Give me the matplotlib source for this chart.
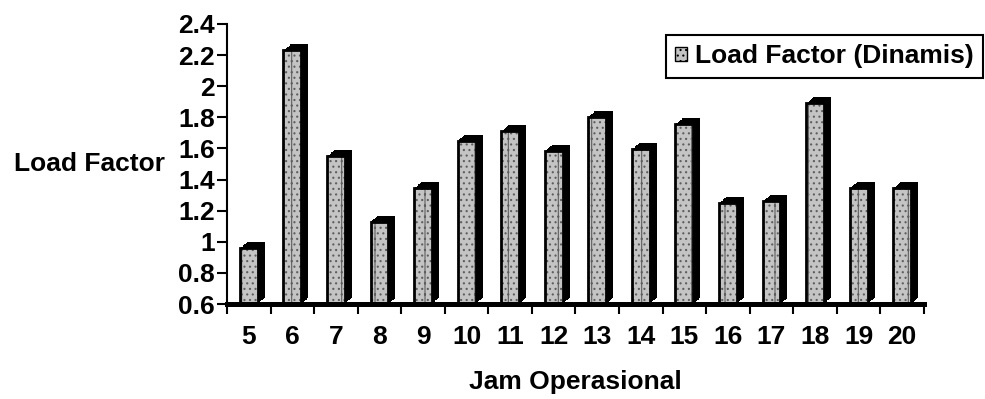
import matplotlib
matplotlib.use('Agg')
import matplotlib.pyplot as plt
import matplotlib.transforms as mtransforms
from matplotlib.patches import Patch
import numpy as np

# Data
jam = ['5', '6', '7', '8', '9', '10', '11', '12', '13', '14', '15', '16', '17', '18', '19', '20']
load_factor = [0.96, 2.23, 1.55, 1.13, 1.345, 1.65, 1.71, 1.585,
               1.805, 1.596, 1.756, 1.25, 1.26, 1.89, 1.345, 1.345]
y_ticks = [0.6, 0.8, 1.0, 1.2, 1.4, 1.6, 1.8, 2.0, 2.2, 2.4]
y_labels = ['0.6', '0.8', '1', '1.2', '1.4', '1.6', '1.8', '2', '2.2', '2.4']
series_name = 'Load Factor (Dinamis)'

plt.rcParams['font.family'] = ['Liberation Sans', 'DejaVu Sans']
plt.rcParams['font.weight'] = 'bold'
plt.rcParams['axes.labelweight'] = 'bold'
plt.rcParams['hatch.linewidth'] = 0.8

fig = plt.figure(figsize=(9.85, 3.99), dpi=100)
ax = fig.add_axes([0.2305, 0.238, 0.7075, 0.702])

x = np.arange(len(jam))
base = y_ticks[0]
heights = np.array(load_factor) - base
w = 0.41
face = '#c4c4c4'

# fake 3D depth: stack black copies shifted up/right in pixels
n = 8
for k in range(1, n + 1):
    tr = mtransforms.offset_copy(ax.transData, fig=fig, x=7 * k / n, y=6 * k / n, units='dots')
    ax.bar(x, heights, w, bottom=base, color='black', lw=0, transform=tr, zorder=2)

# front faces (stippled grey, black outline)
ax.bar(x, heights, w, bottom=base, facecolor=face, edgecolor='#5e5e5e',
       lw=0, hatch='|...', zorder=3)
ax.bar(x, heights, w, bottom=base, facecolor='none', edgecolor='black', lw=2, zorder=4)

ax.set_xlim(-0.5, len(jam) - 0.5)
ax.set_ylim(y_ticks[0], y_ticks[-1])

for s in ['top', 'right']:
    ax.spines[s].set_visible(False)
ax.spines['left'].set_linewidth(1.5)
ax.spines['bottom'].set_linewidth(3.6)
ax.spines['bottom'].set_zorder(5)

ax.set_xticks(x, jam)
ax.set_xticks(np.arange(-0.5, len(jam)), minor=True)
ax.tick_params(axis='x', which='major', length=0, pad=15, labelsize=19)
ax.tick_params(axis='x', which='minor', length=7.5, width=1.5, direction='out')
ax.set_yticks(y_ticks, y_labels)
ax.tick_params(axis='y', length=7.5, width=1.5, pad=1, labelsize=19)

ax.set_ylabel('Load Factor', rotation=0, fontsize=19, fontweight='bold', ha='right', va='center')
ax.yaxis.set_label_coords(-0.089, 0.5)
ax.set_xlabel('Jam Operasional', fontsize=19, fontweight='bold')
ax.xaxis.set_label_coords(0.5, -0.279)
ax.xaxis.label.set_va('center')

handle = Patch(facecolor=face, edgecolor='black', hatch='|...', lw=1)
leg = fig.legend(handles=[handle], labels=[series_name], loc='upper right',
                 bbox_to_anchor=(0.998, 0.912), frameon=True, fancybox=False,
                 edgecolor='black', framealpha=1, fontsize=19,
                 handlelength=0.45, handleheight=0.45, handletextpad=0.3,
                 borderpad=0.35, borderaxespad=0)
leg.get_frame().set_linewidth(1.5)

fig.savefig('out.png', dpi=100)
